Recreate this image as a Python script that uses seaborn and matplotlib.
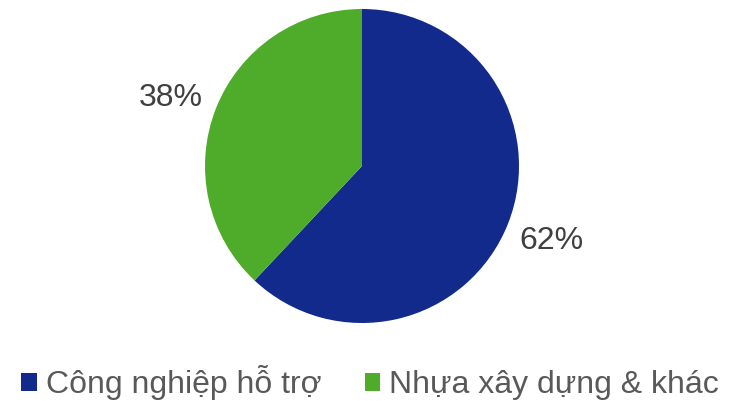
import matplotlib
matplotlib.use("Agg")
import matplotlib.pyplot as plt
import seaborn as sns

sns.set_theme(style="white")
plt.rcParams['font.family'] = ['Liberation Sans', 'DejaVu Sans']

categories = ["Công nghiệp hỗ trợ", "Nhựa xây dựng & khác"]
values = [62, 38]
colors = ["#112A8C", "#4EAC2A"]

W, H = 751, 401
fig = plt.figure(figsize=(W / 100, H / 100), dpi=100)
cx, cy, r = 362, 166, 157
ax = fig.add_axes([(cx - r) / W, (H - cy - r) / H, 2 * r / W, 2 * r / H])
wedges, texts, autotexts = ax.pie(
    values, colors=colors, startangle=90, counterclock=False,
    autopct=lambda p: f"{p:.0f}%", pctdistance=1.3,
    wedgeprops=dict(linewidth=0),
    textprops=dict(fontsize=23, color="#404040"))
# small nudge of the 38% label to match the reference placement
x, y = autotexts[1].get_position()
autotexts[1].set_position((x - 0.01, y - 0.045))
ax.set_xlim(-1, 1)
ax.set_ylim(-1, 1)
ax.set_aspect('equal')
ax.axis('off')

leg = fig.legend(wedges, categories, loc='center', bbox_to_anchor=(370 / W, 1 - 383 / H),
                 ncol=2, frameon=False, fontsize=23, handlelength=0.5, handleheight=0.5,
                 handletextpad=0.28, columnspacing=1.35, labelcolor="#595959",
                 borderpad=0, borderaxespad=0)
fig.savefig("out.png", dpi=100)
